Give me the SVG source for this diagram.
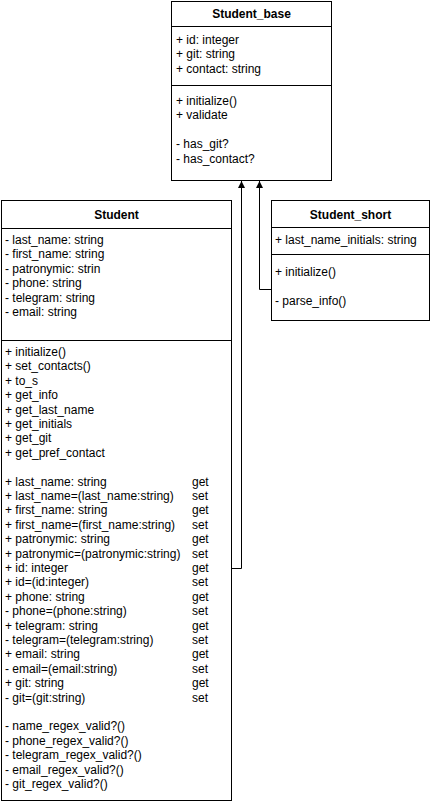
<svg xmlns="http://www.w3.org/2000/svg" width="431" height="804" viewBox="0 0 431 804">
<style>
.box{fill:#fff;stroke:#000;stroke-width:1}
.sep{stroke:#000;stroke-width:1}
.t{font-family:"Liberation Sans",Arial,sans-serif;font-size:12px;fill:#000}
.h{font-family:"Liberation Sans",Arial,sans-serif;font-size:12px;font-weight:bold;fill:#000;text-anchor:middle}
.c{fill:none;stroke:#000;stroke-width:1}
</style>
<defs>
<marker id="arr" viewBox="0 0 10 10" refX="10" refY="5" markerWidth="7" markerHeight="7" markerUnits="userSpaceOnUse" orient="auto">
<path d="M0,0 L10,5 L0,10 Z" fill="#000"/>
</marker>
</defs>
<g id="connectors">
<path class="c" d="M231.5,568.5 H241.5 V181" marker-end="url(#arr)"/>
<path class="c" d="M271.5,289.5 H259.5 V181" marker-end="url(#arr)"/>
</g>
<g id="student_base">
<rect class="box" x="171.5" y="1.5" width="160" height="179"/>
<line class="sep" x1="171.5" y1="26.5" x2="331.5" y2="26.5"/>
<line class="sep" x1="171.5" y1="85.5" x2="331.5" y2="85.5"/>
<text class="h" x="251.5" y="18">Student_base</text>
<text class="t" x="176">
<tspan x="176" y="44">+ id: integer</tspan>
<tspan x="176" y="58.4">+ git: string</tspan>
<tspan x="176" y="72.8">+ contact: string</tspan>
</text>
<text class="t" x="176">
<tspan x="176" y="105">+ initialize()</tspan>
<tspan x="176" y="119.4">+ validate</tspan>
<tspan x="176" y="148.2">- has_git?</tspan>
<tspan x="176" y="162.6">- has_contact?</tspan>
</text>
</g>
<g id="student_short">
<rect class="box" x="271.5" y="200.5" width="158" height="120"/>
<line class="sep" x1="271.5" y1="227.5" x2="429.5" y2="227.5"/>
<line class="sep" x1="271.5" y1="254.5" x2="429.5" y2="254.5"/>
<text class="h" x="350.5" y="218.5">Student_short</text>
<text class="t" x="275" y="244">+ last_name_initials: string</text>
<text class="t" x="275" y="276">+ initialize()</text>
<text class="t" x="275" y="305">- parse_info()</text>
</g>
<g id="student">
<rect class="box" x="1.5" y="200.5" width="230" height="600"/>
<line class="sep" x1="1.5" y1="228.5" x2="231.5" y2="228.5"/>
<line class="sep" x1="1.5" y1="340.5" x2="231.5" y2="340.5"/>
<text class="h" x="116.5" y="218.5">Student</text>
<text class="t">
<tspan x="5" y="244">- last_name: string</tspan>
<tspan x="5" y="258.4">- first_name: string</tspan>
<tspan x="5" y="272.8">- patronymic: strin</tspan>
<tspan x="5" y="287.2">- phone: string</tspan>
<tspan x="5" y="301.6">- telegram: string</tspan>
<tspan x="5" y="316">- email: string</tspan>
</text>
<text class="t">
<tspan x="5" y="356">+ initialize()</tspan>
<tspan x="5" y="370.4">+ set_contacts()</tspan>
<tspan x="5" y="384.8">+ to_s</tspan>
<tspan x="5" y="399.2">+ get_info</tspan>
<tspan x="5" y="413.6">+ get_last_name</tspan>
<tspan x="5" y="428">+ get_initials</tspan>
<tspan x="5" y="442.4">+ get_git</tspan>
<tspan x="5" y="456.8">+ get_pref_contact</tspan>
<tspan x="5" y="485.6">+ last_name: string</tspan>
<tspan x="5" y="500">+ last_name=(last_name:string)</tspan>
<tspan x="5" y="514.4">+ first_name: string</tspan>
<tspan x="5" y="528.8">+ first_name=(first_name:string)</tspan>
<tspan x="5" y="543.2">+ patronymic: string</tspan>
<tspan x="5" y="557.6">+ patronymic=(patronymic:string)</tspan>
<tspan x="5" y="572">+ id: integer</tspan>
<tspan x="5" y="586.4">+ id=(id:integer)</tspan>
<tspan x="5" y="600.8">+ phone: string</tspan>
<tspan x="5" y="615.2">- phone=(phone:string)</tspan>
<tspan x="5" y="629.6">+ telegram: string</tspan>
<tspan x="5" y="644">- telegram=(telegram:string)</tspan>
<tspan x="5" y="658.4">+ email: string</tspan>
<tspan x="5" y="672.8">- email=(email:string)</tspan>
<tspan x="5" y="687.2">+ git: string</tspan>
<tspan x="5" y="701.6">- git=(git:string)</tspan>
<tspan x="5" y="730.4">- name_regex_valid?()</tspan>
<tspan x="5" y="744.8">- phone_regex_valid?()</tspan>
<tspan x="5" y="759.2">- telegram_regex_valid?()</tspan>
<tspan x="5" y="773.6">- email_regex_valid?()</tspan>
<tspan x="5" y="788">- git_regex_valid?()</tspan>
</text>
<text class="t">
<tspan x="192" y="485.6">get</tspan>
<tspan x="192" y="500">set</tspan>
<tspan x="192" y="514.4">get</tspan>
<tspan x="192" y="528.8">set</tspan>
<tspan x="192" y="543.2">get</tspan>
<tspan x="192" y="557.6">set</tspan>
<tspan x="192" y="572">get</tspan>
<tspan x="192" y="586.4">set</tspan>
<tspan x="192" y="600.8">get</tspan>
<tspan x="192" y="615.2">set</tspan>
<tspan x="192" y="629.6">get</tspan>
<tspan x="192" y="644">set</tspan>
<tspan x="192" y="658.4">get</tspan>
<tspan x="192" y="672.8">set</tspan>
<tspan x="192" y="687.2">get</tspan>
<tspan x="192" y="701.6">set</tspan>
</text>
</g>
</svg>
